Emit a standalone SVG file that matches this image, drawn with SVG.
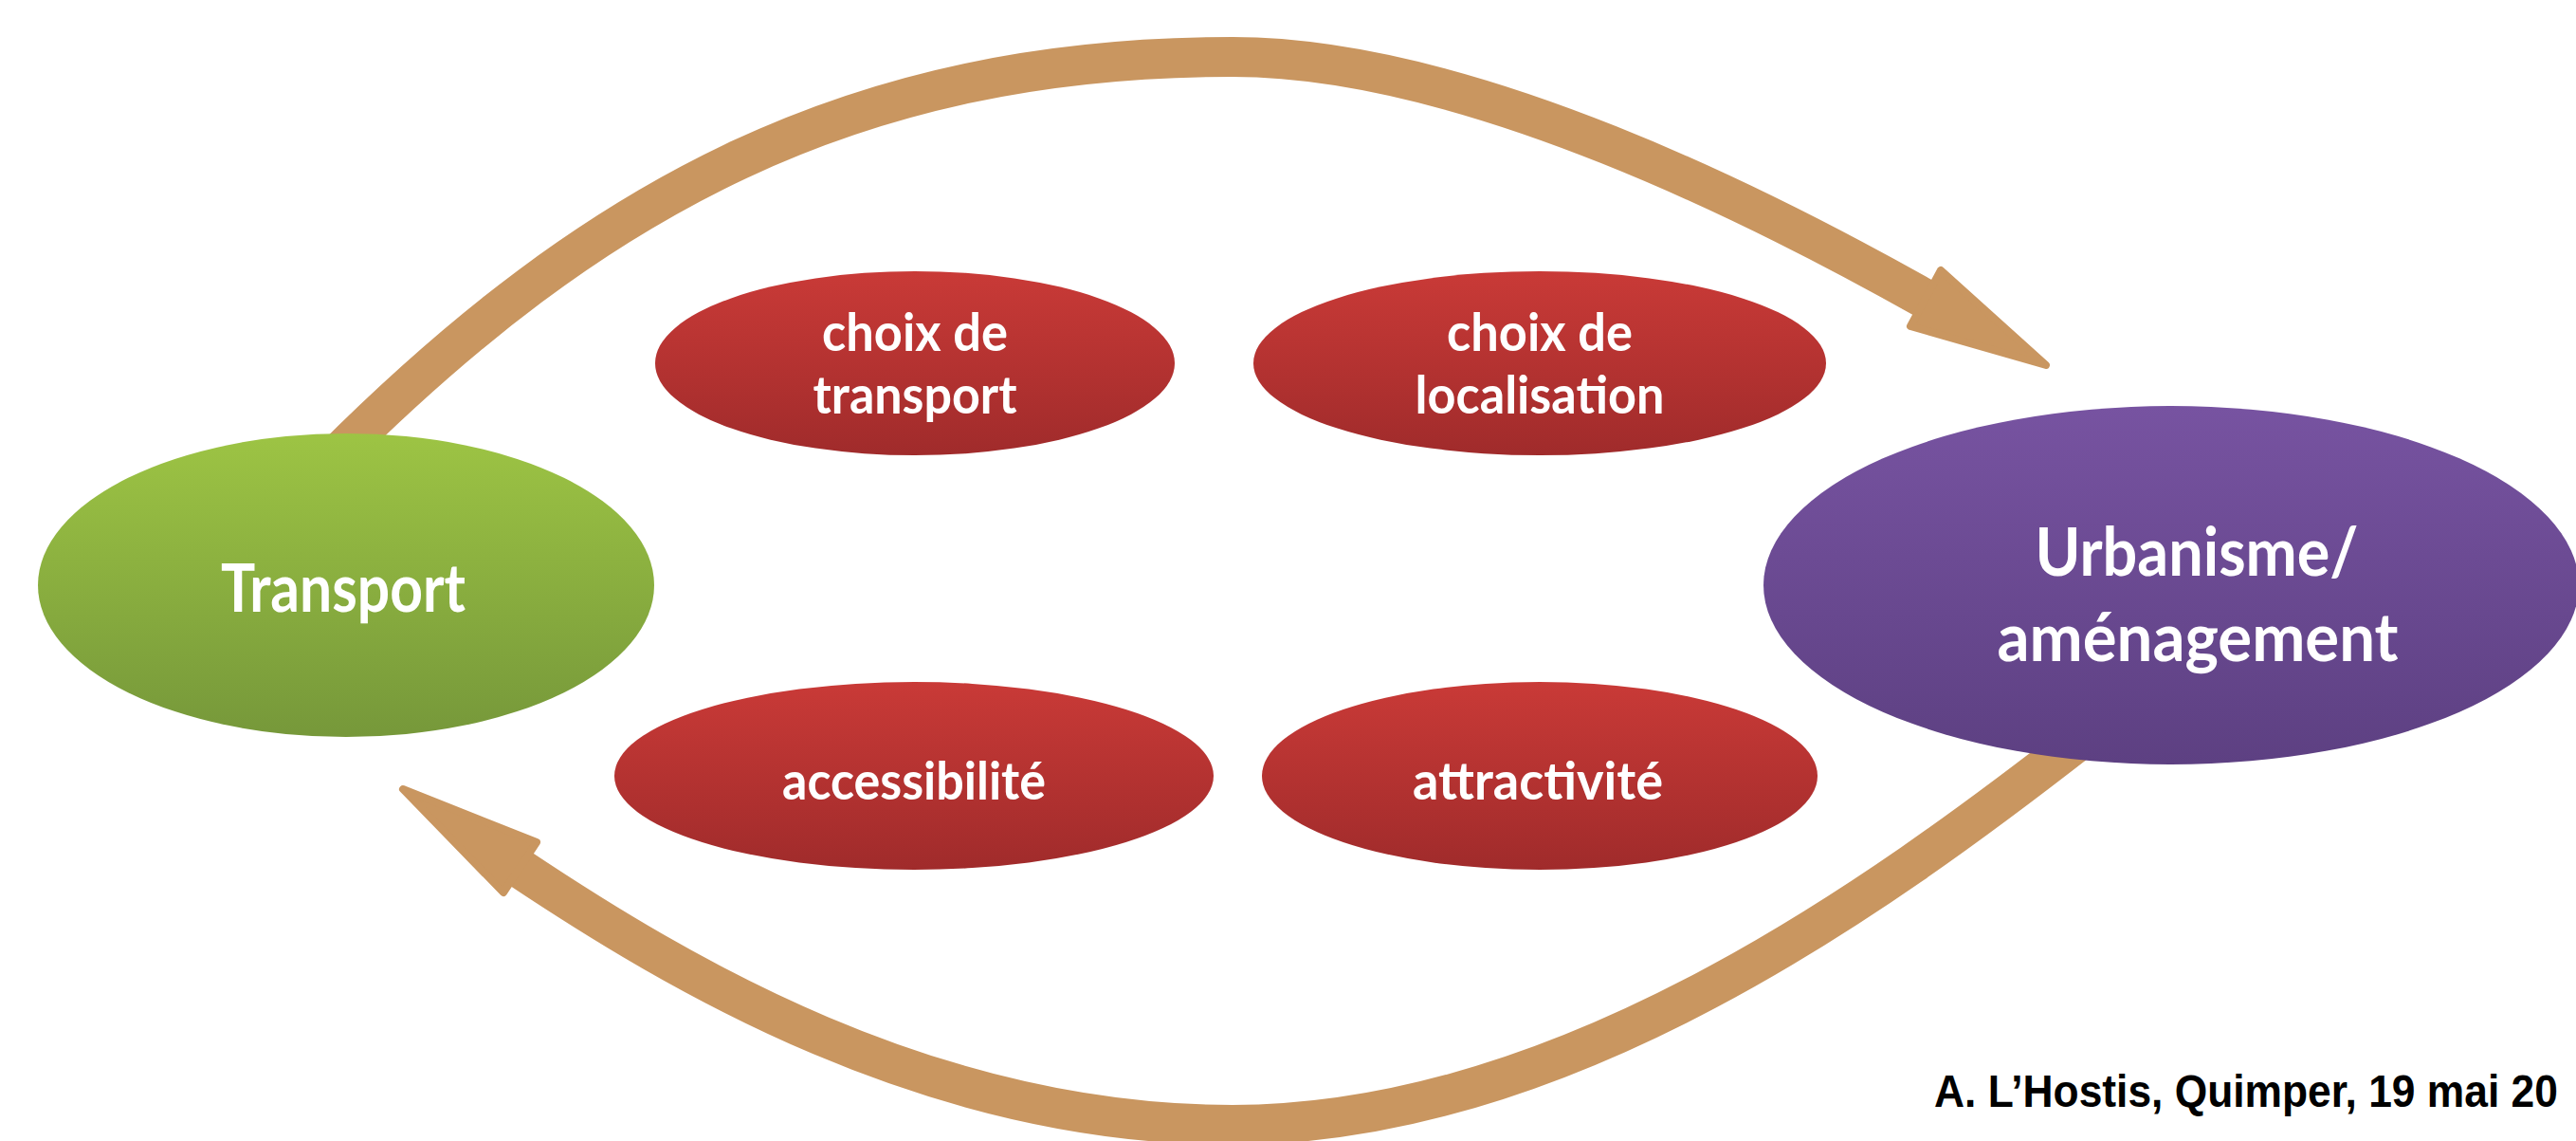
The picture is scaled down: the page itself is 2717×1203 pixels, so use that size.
<svg xmlns="http://www.w3.org/2000/svg" width="2717" height="1203" viewBox="0 0 2717 1203">
  <style>
    .shaft { fill: none; stroke: #C99660; stroke-width: 42; stroke-linecap: butt; }
    .head { fill: #C99660; stroke: #C99660; stroke-width: 8; stroke-linejoin: round; }
    .big { font-family: Lato, "Open Sans", "Liberation Sans", sans-serif; font-weight: 700; font-size: 70px; fill: #ffffff; text-anchor: middle; }
    .small { font-family: Lato, "Open Sans", "Liberation Sans", sans-serif; font-weight: 700; font-size: 55px; fill: #ffffff; text-anchor: middle; }
    .credit { font-family: "Liberation Sans", Arial, sans-serif; font-weight: 700; font-size: 49px; fill: #000000; }
  </style>
  <defs>
    <linearGradient id="gGreen" x1="0" y1="0" x2="0" y2="1">
      <stop offset="0" stop-color="#9DC444"/>
      <stop offset="1" stop-color="#76983A"/>
    </linearGradient>
    <linearGradient id="gPurple" x1="0" y1="0" x2="0" y2="1">
      <stop offset="0" stop-color="#7753A1"/>
      <stop offset="1" stop-color="#5D4082"/>
    </linearGradient>
    <linearGradient id="gRed" x1="0" y1="0" x2="0" y2="1">
      <stop offset="0" stop-color="#C93A37"/>
      <stop offset="1" stop-color="#A02B2B"/>
    </linearGradient>
  </defs>

  <rect width="2717" height="1203" fill="#ffffff"/>

  <!-- feedback loop arrows -->
  <g id="connectors">
    <path class="shaft" d="M350,485 C627,208 900,60 1300,60 C1550,60 1865,222 2032,316"/>
    <polygon class="head" points="2158,385 2047,285 2015,344"/>
    <path class="shaft" d="M2200,775 C1982,945 1650,1186 1300,1186 C980,1186 714,1026 546,914"/>
    <polygon class="head" points="425,832 566,888 531,941"/>
  </g>

  <g id="node-transport">
    <ellipse cx="365" cy="617" rx="325" ry="160" fill="url(#gGreen)"/>
    <text class="big" x="362" y="645" textLength="258" lengthAdjust="spacingAndGlyphs">Transport</text>
  </g>

  <g id="node-urbanisme">
    <ellipse cx="2290" cy="617" rx="430" ry="189" fill="url(#gPurple)"/>
    <text class="big" x="2317" y="607" textLength="341" lengthAdjust="spacingAndGlyphs">Urbanisme/</text>
    <text class="big" x="2318" y="697" textLength="423" lengthAdjust="spacingAndGlyphs">aménagement</text>
  </g>

  <g id="node-choix-transport">
    <ellipse cx="965" cy="383" rx="274" ry="97" fill="url(#gRed)"/>
    <text class="small" x="965" y="370" textLength="196" lengthAdjust="spacingAndGlyphs">choix de</text>
    <text class="small" x="965" y="436" textLength="215" lengthAdjust="spacingAndGlyphs">transport</text>
  </g>

  <g id="node-choix-localisation">
    <ellipse cx="1624" cy="383" rx="302" ry="97" fill="url(#gRed)"/>
    <text class="small" x="1624" y="370" textLength="196" lengthAdjust="spacingAndGlyphs">choix de</text>
    <text class="small" x="1624" y="436" textLength="263" lengthAdjust="spacingAndGlyphs">localisation</text>
  </g>

  <g id="node-accessibilite">
    <ellipse cx="964" cy="818" rx="316" ry="99" fill="url(#gRed)"/>
    <text class="small" x="964" y="843" textLength="278" lengthAdjust="spacingAndGlyphs">accessibilité</text>
  </g>

  <g id="node-attractivite">
    <ellipse cx="1624" cy="818" rx="293" ry="99" fill="url(#gRed)"/>
    <text class="small" x="1622" y="843" textLength="264" lengthAdjust="spacingAndGlyphs">attractivité</text>
  </g>

  <!-- author credit, horizontally condensed -->
  <text class="credit" transform="translate(2040,1167) scale(0.905,1)" x="0" y="0">A. L’Hostis, Quimper, 19 mai 20</text>
</svg>
